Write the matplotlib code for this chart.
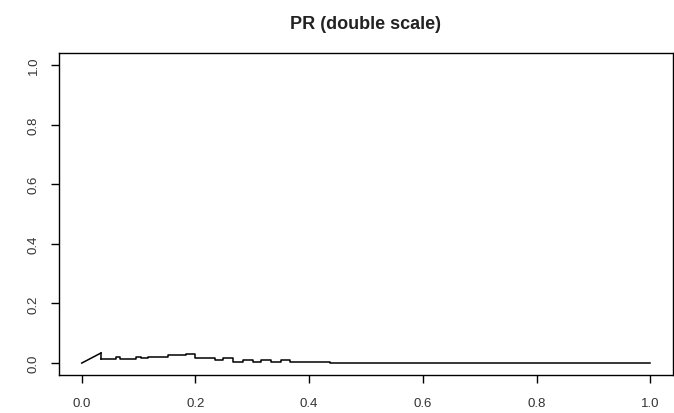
import numpy as np
import matplotlib.pyplot as plt

plt.rcParams["font.family"] = ["Liberation Sans", "DejaVu Sans"]

# rising part at the very start (drawn as a straight segment)
rise_x = [0.0, 0.034]
rise_y = [0.0, 0.034]

# step part after the peak: x where a level starts, and the level
step_x = [0.034, 0.060, 0.068, 0.096, 0.105, 0.117, 0.152, 0.184, 0.199,
          0.234, 0.248, 0.266, 0.283, 0.301, 0.316, 0.333, 0.351, 0.366,
          0.436, 1.0]
step_y = [0.012, 0.020, 0.013, 0.020, 0.016, 0.021, 0.026, 0.031, 0.016,
          0.010, 0.016, 0.005, 0.010, 0.005, 0.010, 0.005, 0.009, 0.004,
          0.0, 0.0]

ticks = [0.0, 0.2, 0.4, 0.6, 0.8, 1.0]
tick_labels = ["0.0", "0.2", "0.4", "0.6", "0.8", "1.0"]

fig = plt.figure(figsize=(6.74, 4.14), dpi=100)
ax = fig.add_axes([59 / 674, 38 / 414, 614 / 674, 322 / 414])

ax.plot(rise_x, rise_y, color="black", lw=1.1)
ax.plot([rise_x[-1], step_x[0]], [rise_y[-1], step_y[0]], color="black", lw=1.1)
ax.plot(step_x, step_y, drawstyle="steps-post", color="black", lw=1.1)

ax.set_xlim(-0.04, 1.04)
ax.set_ylim(-0.04, 1.04)
ax.set_xticks(ticks)
ax.set_xticklabels(tick_labels)
ax.set_yticks(ticks)
ax.set_yticklabels(tick_labels, rotation=90, va="center")

for s in ax.spines.values():
    s.set_linewidth(1.0)
ax.tick_params(axis="both", direction="out", length=6, width=1.0,
               labelsize=9.5, labelcolor="#333333")
ax.tick_params(axis="x", pad=10)
ax.tick_params(axis="y", pad=8)

ax.set_title("PR (double scale)", fontsize=13, fontweight="bold",
             color="#222222", pad=18)

fig.savefig("out.png", dpi=100)
